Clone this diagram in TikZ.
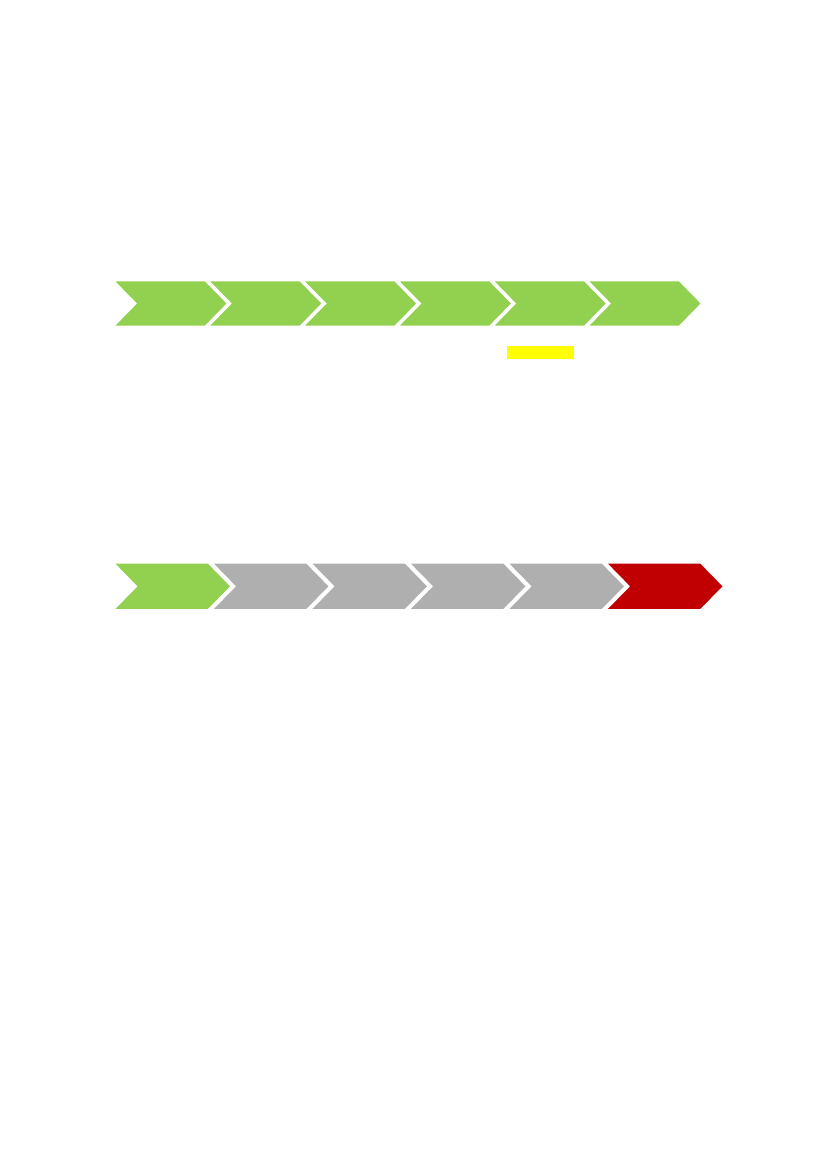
\documentclass[tikz,border=0pt]{standalone}
\usepackage{tikz}
\definecolor{cgreen}{HTML}{92D050}
\definecolor{cgray}{HTML}{AFAFAF}
\definecolor{cred}{HTML}{C00000}
\definecolor{cyellow}{HTML}{FFFF00}
\tikzset{chev/.style={draw=white, line width=1.6pt, line join=miter}}
\newcommand{\chevshape}[6]{% x0, ytop, width, depth, height, color
  \filldraw[chev, fill=#6] (#1,#2) -- ++(#3,0) -- ++(#4,#5/2) -- ++(-#4,#5/2) -- ++(-#3,0) -- ++(#4,-#5/2) -- cycle;}
\begin{document}
\begin{tikzpicture}[x=1pt,y=-1pt]
\useasboundingbox[fill=white] (0,0) rectangle (827,1169);
% top row
\foreach \i in {0,...,5}{
  \chevshape{113.3+94.8*\i}{280.5}{92}{22.5}{46}{cgreen}
}
\fill[cyellow] (507.3,346) rectangle (574.3,359.3);
% bottom row
\foreach \i/\c in {0/cgreen,1/cgray,2/cgray,3/cgray,4/cgray,5/cred}{
  \chevshape{113.3+98.5*\i}{562.8}{95}{23}{47}{\c}
}
\end{tikzpicture}
\end{document}
